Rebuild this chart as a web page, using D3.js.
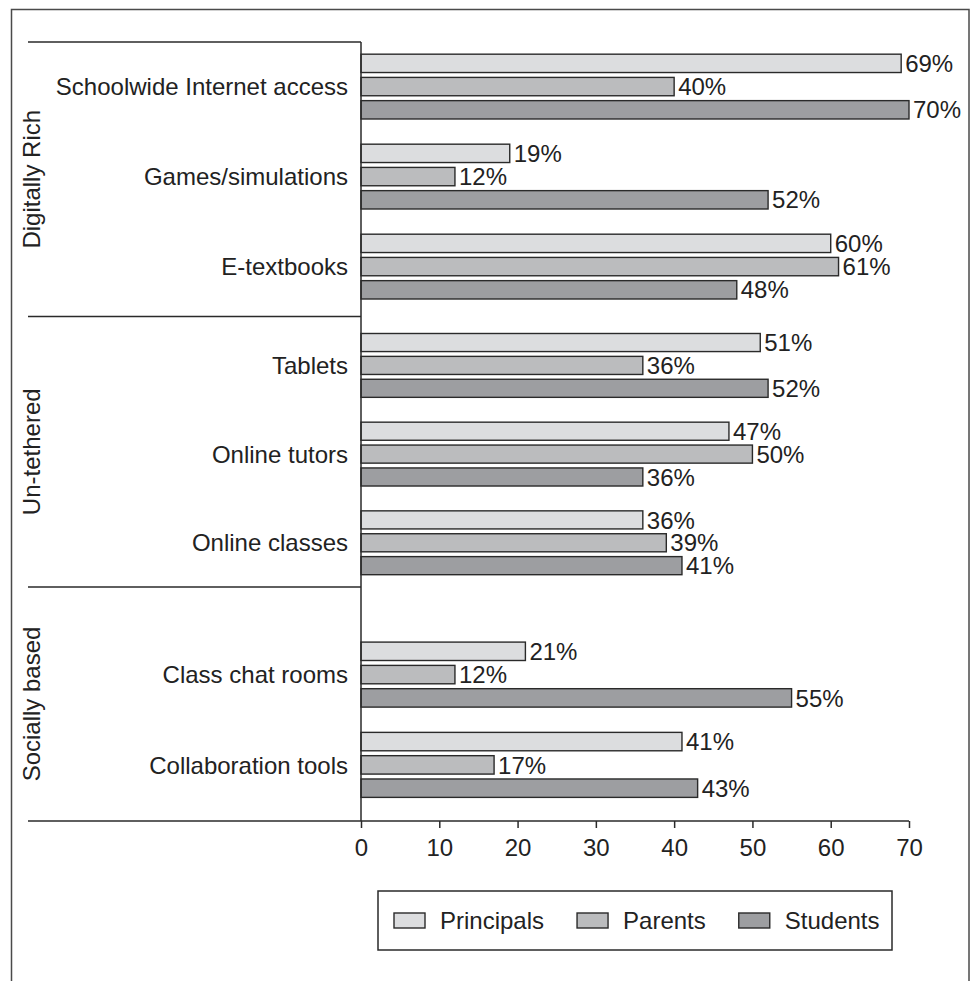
<!DOCTYPE html>
<html>
<head>
<meta charset="utf-8">
<script src="https://cdn.jsdelivr.net/npm/d3@7"></script>
<style>
  html, body { margin: 0; padding: 0; background: #fff; }
  svg { display: block; font-family: "Liberation Sans", Arial, Helvetica, sans-serif; }
  text { fill: #222; }
</style>
</head>
<body>
<svg id="chart" width="971" height="981"></svg>
<script>
// ---- data ----
const groups = ["Digitally Rich", "Un-tethered", "Socially based"];
const groupSizes = [3, 3, 2];
const categories = [
  "Schoolwide Internet access",
  "Games/simulations",
  "E-textbooks",
  "Tablets",
  "Online tutors",
  "Online classes",
  "Class chat rooms",
  "Collaboration tools"
];
const seriesNames = ["Principals", "Parents", "Students"];
const principals = [69, 19, 60, 51, 47, 36, 21, 41];
const parents    = [40, 12, 61, 36, 50, 39, 12, 17];
const students   = [70, 52, 48, 52, 36, 41, 55, 43];
const xTicks = [0, 10, 20, 30, 40, 50, 60, 70];

// ---- layout / style ----
const colors = ["#dcdddf", "#bbbcbe", "#9d9ea1"];
const ink = "#2a2a2a";
const fontSize = 24;
const plot = { left: 361, right: 909, top: 42, bottom: 821, sepLeft: 28 };
// vertical split of the plot area between the three groups (fractions of height)
const groupSplit = [0, 0.3524, 0.6996, 1];
const groupPad = [
  { outer: 0.165, align: 0.41 },
  { outer: 0.165, align: 0.58 },
  { outer: 0.436, align: 0.70 }
];

const svg = d3.select("#chart");

// outer frame
svg.append("rect")
  .attr("x", 11.5).attr("y", 9.5)
  .attr("width", 957.5).attr("height", 1010)
  .attr("fill", "none").attr("stroke", "#4a4a4a").attr("stroke-width", 1.5);

const x = d3.scaleLinear().domain([0, 70]).range([plot.left, plot.right]);
const yEdge = d3.scaleLinear().domain([0, 1]).range([plot.top, plot.bottom]);

const seriesValues = [principals, parents, students];

// build category rows with their group
let idx = 0;
const rows = [];
groups.forEach((g, gi) => {
  const cats = categories.slice(idx, idx + groupSizes[gi]);
  const y0 = yEdge(groupSplit[gi]), y1 = yEdge(groupSplit[gi + 1]);
  const band = d3.scaleBand().domain(cats).range([y0, y1])
    .paddingInner(0.28).paddingOuter(groupPad[gi].outer).align(groupPad[gi].align);
  const inner = d3.scaleBand().domain(seriesNames).range([0, band.bandwidth()])
    .paddingInner(0.21).paddingOuter(0);
  cats.forEach((c, k) => {
    rows.push({ cat: c, index: idx + k, band, inner });
  });

  // group label, rotated
  svg.append("text")
    .attr("transform", `translate(40,${(y0 + y1) / 2}) rotate(-90)`)
    .attr("text-anchor", "middle")
    .attr("font-size", fontSize)
    .text(g);

  // separator line above each group
  svg.append("line")
    .attr("x1", plot.sepLeft).attr("x2", plot.left)
    .attr("y1", y0).attr("y2", y0)
    .attr("stroke", ink).attr("stroke-width", 1.5);

  idx += groupSizes[gi];
});

// bars and value labels
rows.forEach(r => {
  const top = r.band(r.cat);
  seriesNames.forEach((s, si) => {
    const v = seriesValues[si][r.index];
    const by = top + r.inner(s);
    const bh = r.inner.bandwidth();
    svg.append("rect")
      .attr("x", x(0)).attr("y", by)
      .attr("width", x(v) - x(0)).attr("height", bh)
      .attr("fill", colors[si]).attr("stroke", ink).attr("stroke-width", 1.4);
    svg.append("text")
      .attr("x", x(v) + 4).attr("y", by + bh / 2)
      .attr("dy", "0.36em")
      .attr("font-size", fontSize)
      .text(v + "%");
  });
  // category label
  svg.append("text")
    .attr("x", plot.left - 13)
    .attr("y", top + r.band.bandwidth() / 2)
    .attr("dy", "0.36em")
    .attr("text-anchor", "end")
    .attr("font-size", fontSize)
    .text(r.cat);
});

// vertical axis line
svg.append("line")
  .attr("x1", x(0)).attr("x2", x(0))
  .attr("y1", plot.top).attr("y2", plot.bottom)
  .attr("stroke", ink).attr("stroke-width", 1.5);

// bottom axis line across the whole width
svg.append("line")
  .attr("x1", plot.sepLeft).attr("x2", x(70))
  .attr("y1", plot.bottom).attr("y2", plot.bottom)
  .attr("stroke", ink).attr("stroke-width", 1.5);

// x axis ticks and labels
const xAxis = svg.append("g")
  .attr("transform", `translate(0,${plot.bottom})`)
  .call(d3.axisBottom(x).tickValues(xTicks).tickSize(7).tickSizeOuter(0).tickPadding(11));
xAxis.select(".domain").remove();
xAxis.selectAll(".tick line").attr("stroke", ink).attr("stroke-width", 1.5);
xAxis.selectAll(".tick text")
  .attr("font-size", fontSize)
  .attr("font-family", "'Liberation Sans', Arial, Helvetica, sans-serif")
  .attr("fill", "#222");

// legend
const legend = svg.append("g");
legend.append("rect")
  .attr("x", 378).attr("y", 891).attr("width", 514).attr("height", 59)
  .attr("fill", "#fff").attr("stroke", ink).attr("stroke-width", 1.5);
let lx = 394;
seriesNames.forEach((s, si) => {
  legend.append("rect")
    .attr("x", lx).attr("y", 913).attr("width", 31).attr("height", 15)
    .attr("fill", colors[si]).attr("stroke", ink).attr("stroke-width", 1.4);
  const t = legend.append("text")
    .attr("x", lx + 46).attr("y", 920.5)
    .attr("dy", "0.36em")
    .attr("font-size", fontSize)
    .text(s);
  lx = lx + 46 + t.node().getComputedTextLength() + 33;
});
</script>
</body>
</html>
